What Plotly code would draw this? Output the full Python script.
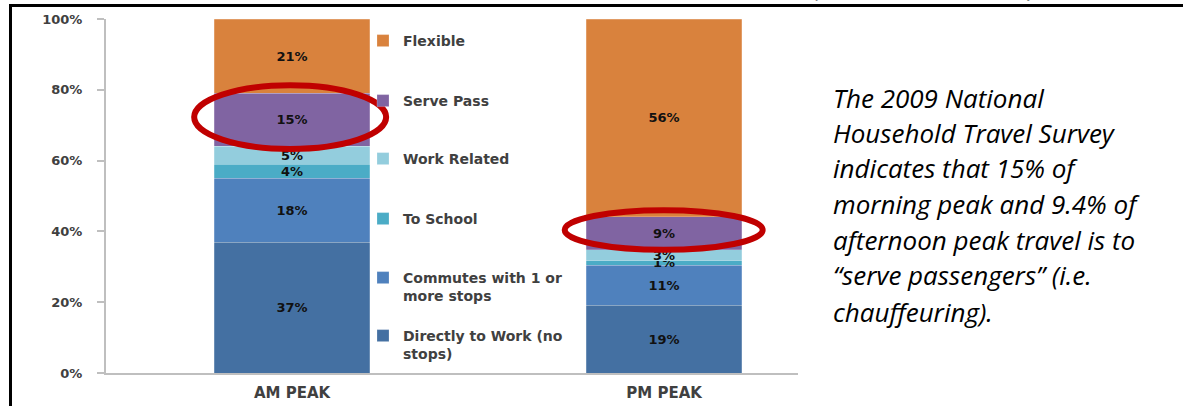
import plotly.graph_objects as go

W, H = 1183, 406

# Share of peak-period trips by purpose (percent)
periods = ["AM PEAK", "PM PEAK"]
series_names = [
    "Directly to Work (no stops)",
    "Commutes with 1 or more stops",
    "To School",
    "Work Related",
    "Serve Pass",
    "Flexible",
]
legend_texts = [
    "Directly to Work (no<br>stops)",
    "Commutes with 1 or<br>more stops",
    "To School",
    "Work Related",
    "Serve Pass",
    "Flexible",
]
directly_to_work = [37, 19.2]
commutes_with_stops = [18, 11.3]
to_school = [4, 1.2]
work_related = [5, 3.1]
serve_pass = [15, 9.4]
flexible = [21, 55.8]

y_ticks = [0, 20, 40, 60, 80, 100]
y_tick_text = ["0%", "20%", "40%", "60%", "80%", "100%"]

note_lines = [
    "The 2009 National",
    "Household Travel Survey",
    "indicates that 15% of",
    "morning peak and 9.4% of",
    "afternoon peak travel is to",
    "\u201cserve passengers\u201d (i.e.",
    "chauffeuring).",
]

series_values = [directly_to_work, commutes_with_stops, to_school,
                 work_related, serve_pass, flexible]
series_colors = ["#4470A2", "#4F81BD", "#4BACC6", "#93CDDD", "#8064A2", "#D9823D"]
# vertical pixel centre of each legend entry's first line
legend_centres = [335, 277, 218, 158, 100, 40]


def px_x(p):
    return p / W


def px_y(p):
    return 1 - p / H


BOLD = dict(family="DejaVu Sans", weight="bold")

fig = go.Figure()
for i, (name, vals, col) in enumerate(zip(series_names, series_values, series_colors)):
    key = "legend" if i == 0 else f"legend{i + 1}"
    fig.add_trace(go.Bar(
        x=periods, y=vals, name=legend_texts[i],
        marker=dict(color=col, line=dict(color="rgba(255,255,255,0.35)", width=0.6)),
        width=0.417,
        texttemplate="%{y:.0f}%",
        textposition="inside",
        insidetextanchor="middle",
        textangle=0,
        textfont=dict(color="#111111", size=13, **BOLD),
        cliponaxis=False,
        legend=key,
        hoverinfo="skip",
    ))

legends = {}
for i, cy in enumerate(legend_centres):
    key = "legend" if i == 0 else f"legend{i + 1}"
    legends[key] = dict(
        x=px_x(363), xanchor="left",
        y=px_y(cy - 15), yanchor="top",
        bgcolor="rgba(0,0,0,0)", borderwidth=0,
        valign="top",
        font=dict(size=14, color="#404040", **BOLD),
    )

shapes = [
    # frame edges
    dict(type="line", xref="paper", yref="paper",
         x0=px_x(9), x1=1, y0=px_y(5.5), y1=px_y(5.5),
         line=dict(color="black", width=3)),
    dict(type="line", xref="paper", yref="paper",
         x0=px_x(10.5), x1=px_x(10.5), y0=px_y(4), y1=0,
         line=dict(color="black", width=3)),
    # highlight rings round the serve-passenger segments
    dict(type="circle", xref="x", yref="y",
         x0=-0.263, x1=0.253, y0=63.3, y1=81.3,
         line=dict(color="#C00000", width=6)),
    dict(type="circle", xref="x", yref="y",
         x0=0.733, x1=1.265, y0=34.8, y1=46.0,
         line=dict(color="#C00000", width=6)),
]

annotations = []
baselines = [108, 143, 178, 214, 250, 285, 322]
for line, base in zip(note_lines, baselines):
    annotations.append(dict(
        xref="paper", yref="paper", x=px_x(831), y=px_y(base - 10),
        xanchor="left", yanchor="middle", showarrow=False, text=line,
        font=dict(family="Open Sans", size=26, style="italic", color="black"),
    ))
for ch, xp in (("(", 818), (")", 1031)):
    annotations.append(dict(
        xref="paper", yref="paper", x=px_x(xp), y=px_y(-14),
        xanchor="center", yanchor="middle", showarrow=False, text=ch,
        font=dict(family="Open Sans", size=26, style="italic", color="black"),
    ))

fig.update_layout(
    width=W, height=H, autosize=False,
    margin=dict(l=0, r=0, t=0, b=0, pad=0),
    paper_bgcolor="white", plot_bgcolor="white",
    barmode="stack",
    showlegend=True,
    xaxis=dict(
        domain=[px_x(106), px_x(798)],
        range=[-0.5, 1.36],
        automargin=False,
        showline=True, linecolor="#BFBFBF", linewidth=2,
        showgrid=False, zeroline=False, ticks="",
        tickfont=dict(size=15, color="#404040", **BOLD),
        ticklabelstandoff=5,
        fixedrange=True,
    ),
    yaxis=dict(
        domain=[1 - 373 / H, 1 - 19 / H],
        range=[0, 100],
        automargin=False,
        tickvals=y_ticks, ticktext=y_tick_text,
        showline=True, linecolor="#BFBFBF", linewidth=2,
        ticks="outside", ticklen=7, tickcolor="#BFBFBF", tickwidth=2,
        showgrid=False, zeroline=False,
        tickfont=dict(size=13, color="#404040", **BOLD),
        ticklabelstandoff=12,
        fixedrange=True,
    ),
    shapes=shapes,
    annotations=annotations,
    uniformtext=dict(minsize=13, mode="show"),
    **legends,
)

fig.write_html("out.html")
